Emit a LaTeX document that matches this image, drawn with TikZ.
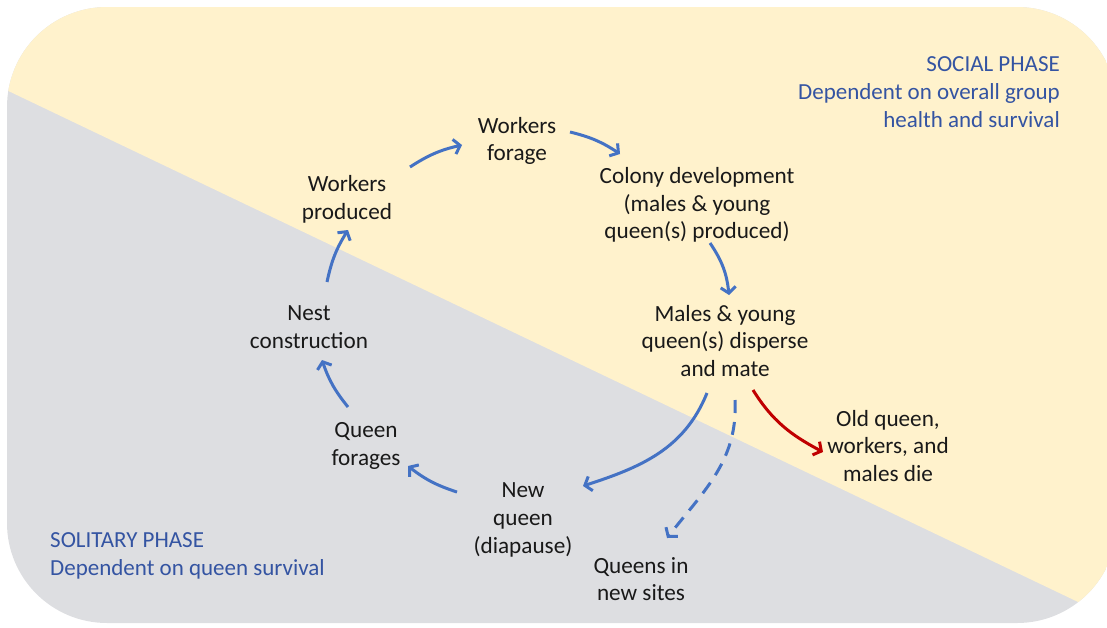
\documentclass[tikz,border=0pt]{standalone}
\usepackage{fontspec}
\setmainfont{Carlito}
\usetikzlibrary{arrows.meta}
\definecolor{bgyellow}{RGB}{255,242,204}
\definecolor{bggray}{RGB}{221,222,225}
\definecolor{arrblue}{RGB}{68,114,196}
\definecolor{arrred}{RGB}{192,0,0}
\definecolor{phaseblue}{RGB}{52,84,162}
\begin{document}
\begin{tikzpicture}[x=1pt,y=-1pt,
  lbl/.style={align=center, inner sep=0pt, text=black!90, font=\fontsize{23.2}{27.7}\selectfont},
  phase/.style={inner sep=0pt, text=phaseblue, font=\fontsize{23}{28}\selectfont},
  arr/.style={draw=arrblue, line width=3pt, -{Straight Barb[length=6pt,width=15pt]}},
  redarr/.style={arr, draw=arrred},
]
\useasboundingbox (0,0) rectangle (1107,627);
\begin{scope}
  \clip[rounded corners=100pt] (7,7) rectangle (1117,623);
  \fill[bggray] (0,0) rectangle (1120,630);
  \fill[bgyellow] (0,87) -- (1120,622) -- (1120,0) -- (0,0) -- cycle;
\end{scope}

% phase labels
\node[phase, align=right, anchor=east] (social) at (1060,92) {SOCIAL PHASE\\Dependent on overall group\\health and survival};
\node[phase, align=left, anchor=west] (solitary) at (50,556) {SOLITARY PHASE\\Dependent on queen survival};

% stage labels
\node[lbl] (wf) at (517,141) {Workers\\forage};
\node[lbl] (wp) at (347,199) {Workers\\produced};
\node[lbl] (cd) at (697,205) {Colony development\\(males \& young\\queen(s) produced)};
\node[lbl] (mq) at (725,341) {Males \& young\\queen(s) disperse\\and mate};
\node[lbl] (od) at (888,446) {Old queen,\\workers, and\\males die};
\node[lbl] (qs) at (641,579) {Queens in\\new sites};
\node[lbl] (nq) at (523,520) {New\\queen\\(diapause)};
\node[lbl] (qf) at (366,446) {Queen\\forages};
\node[lbl] (nc) at (309,327) {Nest\\construction};

% arrow end points
\coordinate (a1s) at (410,167); \coordinate (a1e) at (462,145);
\coordinate (a2s) at (570,132); \coordinate (a2e) at (620,154);
\coordinate (a3s) at (710,243); \coordinate (a3e) at (729,295);
\coordinate (a4s) at (707,393); \coordinate (a4e) at (583,486);
\coordinate (a5s) at (735,400); \coordinate (a5e) at (667,538);
\coordinate (a6s) at (753,390); \coordinate (a6e) at (823,452);
\coordinate (a7s) at (457,492); \coordinate (a7e) at (408,466);
\coordinate (a8s) at (348,407); \coordinate (a8e) at (322,360);
\coordinate (a9s) at (327,282); \coordinate (a9e) at (348,230);

\draw[arr] (a1s) to[bend left=10] (a1e);
\draw[arr] (a2s) to[bend left=10] (a2e);
\draw[arr] (a3s) to[bend left=14] (a3e);
\draw[arr] (a4s) to[out=-112,in=18] (a4e);
\draw[arr, dash pattern=on 13pt off 9pt] (a5s) to[out=-87,in=52] (a5e);
\draw[redarr] (a6s) to[out=-58,in=152] (a6e);
\draw[arr] (a7s) to[bend left=10] (a7e);
\draw[arr] (a8s) to[bend left=10] (a8e);
\draw[arr] (a9s) to[bend left=10] (a9e);
\end{tikzpicture}
\end{document}
